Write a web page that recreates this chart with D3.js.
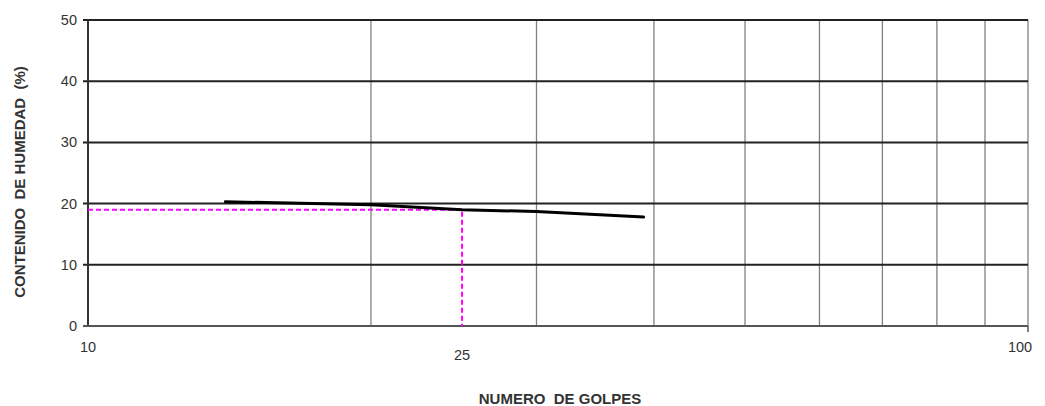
<html>
    <head>
        <style>
body {
    margin: 0;
    background: #fff;
    font-family: Arial, "Liberation Sans", sans-serif;
}
.chart text {
    fill: #333;
}
.chart .tick {
    font-size: 14.5px;
}
.chart .title {
    font-size: 15px;
    font-weight: bold;
    white-space: pre;
}
        </style>
    </head>
    <body>
<script src="https://d3js.org/d3.v7.min.js"></script>
<script>

const
    width = 1045,
    height = 406;

// data
const golpes = [14, 20, 25, 30, 39],
    humedad = [20.3, 19.8, 19.0, 18.7, 17.8];
const yTicks = [0, 10, 20, 30, 40, 50],
    xGrid = [20, 30, 40, 50, 60, 70, 80, 90, 100],
    xLabels = [10, 25, 100];
const ref = {golpes: 25, humedad: 19};

const
    mLeft = 88, mRight = 1028, mTop = 20, mBottom = 326;

var x = d3.scaleLog().domain([10, 100]).range([mLeft, mRight]),
    y = d3.scaleLinear().domain([0, 50]).range([mBottom, mTop]);

var svg = d3.select('body')
    .append('svg')
    .classed('chart', true)
    .attr('width', width)
    .attr('height', height);

// vertical grid (thin grey)
svg.append('g')
    .selectAll('line')
    .data(xGrid)
  .enter().append('line')
    .attr('x1', d => x(d)).attr('x2', d => x(d))
    .attr('y1', mTop).attr('y2', mBottom)
    .attr('stroke', '#808080')
    .attr('stroke-width', 1.3);

// horizontal grid (dark)
svg.append('g')
    .selectAll('line')
    .data(yTicks.filter(d => d > 0))
  .enter().append('line')
    .attr('x1', mLeft - 5).attr('x2', mRight)
    .attr('y1', d => y(d)).attr('y2', d => y(d))
    .attr('stroke', '#222')
    .attr('stroke-width', 2);

// axes
svg.append('line')
    .attr('x1', mLeft).attr('x2', mLeft)
    .attr('y1', mTop).attr('y2', mBottom)
    .attr('stroke', '#333').attr('stroke-width', 2);
svg.append('line')
    .attr('x1', mLeft - 5).attr('x2', mRight)
    .attr('y1', mBottom).attr('y2', mBottom)
    .attr('stroke', '#555').attr('stroke-width', 2);
svg.append('line')
    .attr('x1', mRight).attr('x2', mRight)
    .attr('y1', mBottom).attr('y2', mBottom + 6)
    .attr('stroke', '#555').attr('stroke-width', 1.5);

// y tick labels
svg.append('g')
    .selectAll('text')
    .data(yTicks)
  .enter().append('text')
    .classed('tick', true)
    .attr('x', mLeft - 11)
    .attr('y', d => y(d))
    .attr('dy', '0.35em')
    .attr('text-anchor', 'end')
    .text(d => d);

// x tick labels (sit at slightly different heights in the original)
const xLabelY = {10: 352, 25: 360, 100: 352};
svg.append('g')
    .selectAll('text')
    .data(xLabels)
  .enter().append('text')
    .classed('tick', true)
    .attr('x', d => d === 100 ? x(d) - 8 : x(d))
    .attr('y', d => xLabelY[d])
    .attr('text-anchor', 'middle')
    .text(d => d);

// reference lines at 25 blows
svg.append('path')
    .attr('d', 'M' + mLeft + ',' + y(ref.humedad) + 'H' + x(ref.golpes) + 'V' + mBottom)
    .attr('fill', 'none')
    .attr('stroke', '#ff00ff')
    .attr('stroke-width', 2)
    .attr('stroke-dasharray', '5,3');

// flow curve
svg.append('path')
    .datum(d3.zip(golpes, humedad))
    .attr('d', d3.line().x(d => x(d[0])).y(d => y(d[1])))
    .attr('fill', 'none')
    .attr('stroke', '#000')
    .attr('stroke-width', 3)
    .attr('stroke-linecap', 'round');

// titles
svg.append('text')
    .classed('title', true)
    .attr('x', 560).attr('y', 404)
    .attr('text-anchor', 'middle')
    .text('NUMERO  DE GOLPES');

svg.append('text')
    .classed('title', true)
    .attr('transform', 'translate(25,' + 182 + ') rotate(-90)')
    .attr('text-anchor', 'middle')
    .text('CONTENIDO  DE HUMEDAD  (%)');

</script>
    </body>
</html>
